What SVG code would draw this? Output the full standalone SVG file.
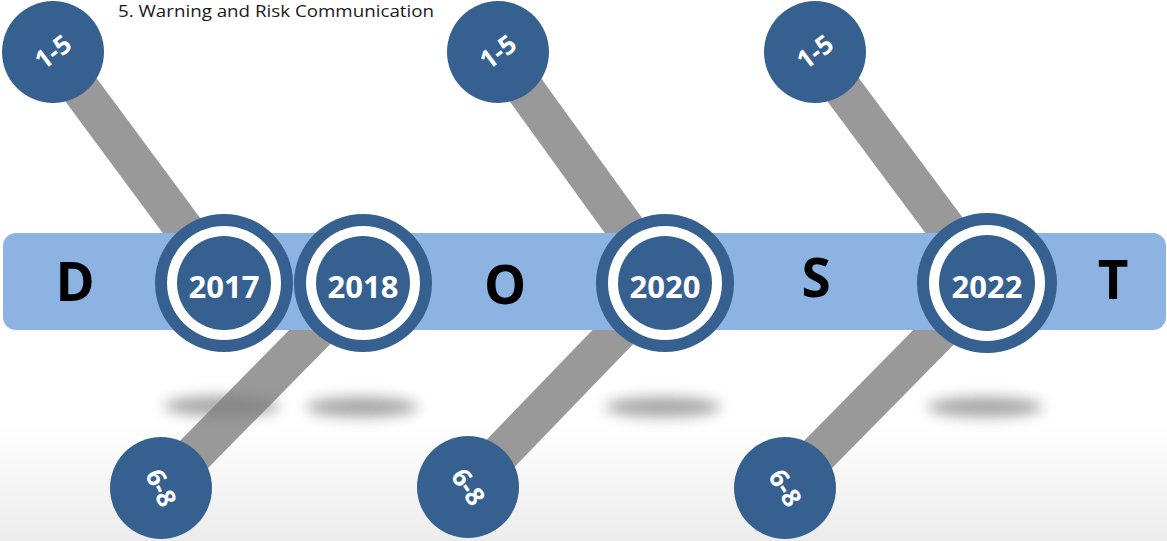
<svg xmlns="http://www.w3.org/2000/svg" width="1167" height="541" viewBox="0 0 1167 541">
<defs>
<linearGradient id="bg" x1="0" y1="0" x2="0" y2="1">
<stop offset="0" stop-color="#ffffff"/>
<stop offset="0.78" stop-color="#ffffff"/>
<stop offset="1" stop-color="#ececec"/>
</linearGradient>
<filter id="blur" x="-50%" y="-200%" width="200%" height="500%"><feGaussianBlur stdDeviation="7"/></filter>
</defs>
<style>
.conn{stroke:#999999;stroke-width:39;stroke-linecap:butt;fill:none}
.sh{fill:#808080;opacity:0.7;filter:url(#blur)}
.dark{fill:#36608f}
.ring{fill:#ffffff}
.yr{font-family:"Open Sans",sans-serif;font-weight:bold;font-size:31px;fill:#ffffff;text-anchor:middle}
.sm{font-family:"Open Sans",sans-serif;font-weight:bold;font-size:26px;fill:#ffffff;text-anchor:middle}
.big{font-family:"Open Sans",sans-serif;font-weight:bold;font-size:53px;fill:#000000;text-anchor:middle}
.title{font-family:"Open Sans",sans-serif;font-size:17px;fill:#1a1a1a}
</style>
<rect width="1167" height="541" fill="url(#bg)"/>
<text class="title" x="118" y="17" textLength="316" lengthAdjust="spacingAndGlyphs">5. Warning and Risk Communication</text>
<g id="connectors">
<line class="conn" x1="53" y1="52" x2="224" y2="283"/>
<line class="conn" x1="498" y1="52" x2="665" y2="283"/>
<line class="conn" x1="815" y1="52" x2="987" y2="283"/>
<line class="conn" x1="161" y1="488" x2="363" y2="283"/>
<line class="conn" x1="468" y1="487" x2="665" y2="283"/>
<line class="conn" x1="785" y1="488" x2="987" y2="283"/>
</g>
<g id="shadows">
<ellipse class="sh" cx="222" cy="406" rx="58" ry="10"/>
<ellipse class="sh" cx="362" cy="407" rx="56" ry="10"/>
<ellipse class="sh" cx="663" cy="407" rx="58" ry="10"/>
<ellipse class="sh" cx="985" cy="407" rx="58" ry="10"/>
</g>
<g id="band">
<rect x="3" y="233" width="1163" height="97" rx="13" fill="#8db3e2"/>
<text class="big" x="75" y="301">D</text>
<text class="big" x="505" y="304">O</text>
<text class="big" x="816" y="297">S</text>
<text class="big" x="1113" y="299">T</text>
</g>
<g id="y2017">
<circle class="dark" cx="224" cy="283" r="69"/><circle class="ring" cx="224" cy="283" r="57"/><circle class="dark" cx="224" cy="283" r="47"/>
<text class="yr" x="224" y="298">2017</text>
</g>
<g id="y2018">
<circle class="dark" cx="363" cy="283" r="69"/><circle class="ring" cx="363" cy="283" r="57"/><circle class="dark" cx="363" cy="283" r="47"/>
<text class="yr" x="363" y="298">2018</text>
</g>
<g id="y2020">
<circle class="dark" cx="665" cy="283" r="69"/><circle class="ring" cx="665" cy="283" r="57"/><circle class="dark" cx="665" cy="283" r="47"/>
<text class="yr" x="665" y="298">2020</text>
</g>
<g id="y2022">
<circle class="dark" cx="987" cy="283" r="70"/><circle class="ring" cx="987" cy="283" r="58"/><circle class="dark" cx="987" cy="283" r="48"/>
<text class="yr" x="987" y="298">2022</text>
</g>
<g id="top1"><circle class="dark" cx="53" cy="52" r="51"/><text class="sm" transform="translate(53,52) rotate(-37)" y="9">1-5</text></g>
<g id="top2"><circle class="dark" cx="498" cy="52" r="51"/><text class="sm" transform="translate(498,52) rotate(-37)" y="9">1-5</text></g>
<g id="top3"><circle class="dark" cx="815" cy="52" r="51"/><text class="sm" transform="translate(815,52) rotate(-37)" y="9">1-5</text></g>
<g id="bot1"><circle class="dark" cx="161" cy="488" r="51"/><text class="sm" transform="translate(161,488) rotate(65)" y="9">6-8</text></g>
<g id="bot2"><circle class="dark" cx="468" cy="487" r="51"/><text class="sm" transform="translate(468,487) rotate(56)" y="9">6-8</text></g>
<g id="bot3"><circle class="dark" cx="785" cy="488" r="51"/><text class="sm" transform="translate(785,488) rotate(59)" y="9">6-8</text></g>
</svg>
